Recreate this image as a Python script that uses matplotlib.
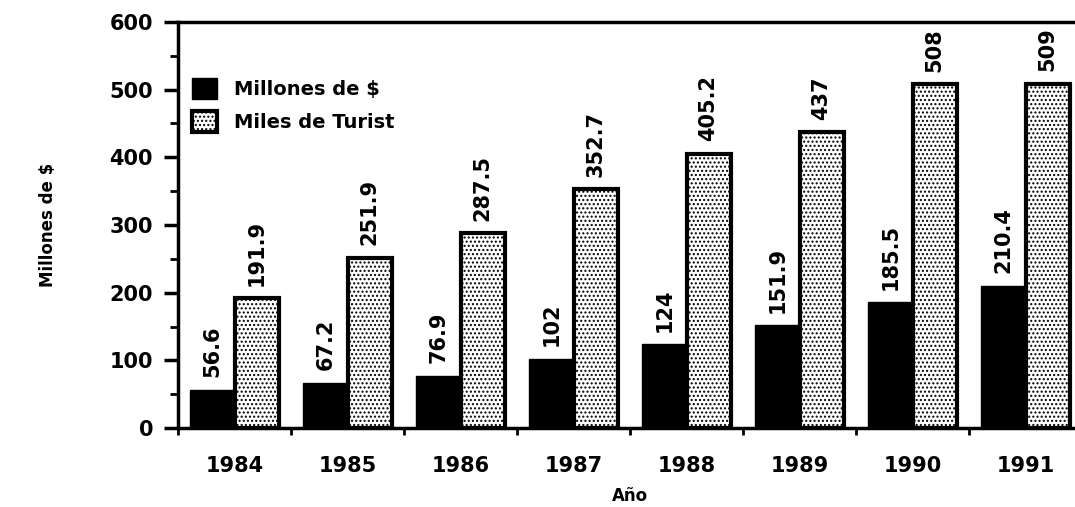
import numpy as np
import matplotlib
matplotlib.use('Agg')
import matplotlib.pyplot as plt
from matplotlib.ticker import MultipleLocator, FixedLocator

years = ['1984', '1985', '1986', '1987', '1988', '1989', '1990', '1991']
millones = [56.6, 67.2, 76.9, 102, 124, 151.9, 185.5, 210.4]
turistas = [191.9, 251.9, 287.5, 352.7, 405.2, 437, 508, 509]
millones_lbl = ['56.6', '67.2', '76.9', '102', '124', '151.9', '185.5', '210.4']
turistas_lbl = ['191.9', '251.9', '287.5', '352.7', '405.2', '437', '508', '509']

plt.rcParams['font.family'] = 'DejaVu Sans'
plt.rcParams['font.weight'] = 'bold'
plt.rcParams['hatch.linewidth'] = 1.0

fig = plt.figure(figsize=(10.75, 5.07), dpi=100)
ax = fig.add_axes([178 / 1075, 79 / 507, 904 / 1075, 406 / 507])

x = np.arange(len(years))
w = 0.39
ax.bar(x - w / 2, millones, w, color='black', edgecolor='black',
       linewidth=1, label='Millones de $')
ax.bar(x + w / 2, turistas, w, color='white', edgecolor='black',
       linewidth=3, hatch='....', label='Miles de Turist')

for xi, v, t in zip(x - w / 2, millones, millones_lbl):
    ax.annotate(t, (xi, v), xytext=(0, 9), textcoords='offset points',
                rotation=90, ha='center', va='bottom', fontsize=15,
                fontweight='bold')
for xi, v, t in zip(x + w / 2, turistas, turistas_lbl):
    ax.annotate(t, (xi, v), xytext=(0, 9), textcoords='offset points',
                rotation=90, ha='center', va='bottom', fontsize=15,
                fontweight='bold')

ax.set_xlim(-0.5, 7.5)
ax.set_ylim(0, 600)
ax.set_xticks(x)
ax.set_xticklabels(years, fontsize=15, fontweight='bold')
ax.xaxis.set_minor_locator(FixedLocator(np.arange(-0.5, 8, 1)))
ax.tick_params(axis='x', which='major', length=0, pad=20)
ax.tick_params(axis='x', which='minor', length=5, width=2, direction='out')

ax.yaxis.set_major_locator(MultipleLocator(100))
ax.yaxis.set_minor_locator(MultipleLocator(50))
ax.tick_params(axis='y', which='major', length=10, width=2.5, direction='out',
               labelsize=15, pad=8)
ax.tick_params(axis='y', which='minor', length=6, width=2, direction='out')
for lbl in ax.get_yticklabels():
    lbl.set_fontweight('bold')

ax.spines['right'].set_visible(False)
for s in ['left', 'bottom', 'top']:
    ax.spines[s].set_linewidth(2.5)

ax.set_ylabel('Millones de $', fontsize=12, fontweight='bold', labelpad=38)
ax.set_xlabel('Año', fontsize=12, fontweight='bold', labelpad=8)

ax.legend(loc='upper left', bbox_to_anchor=(0.0, 0.895), frameon=False,
          fontsize=14, handlelength=1.3, handleheight=1.3, handletextpad=0.9,
          labelspacing=0.6, borderaxespad=0.3)

plt.savefig('out.png', dpi=100)
plt.close()
